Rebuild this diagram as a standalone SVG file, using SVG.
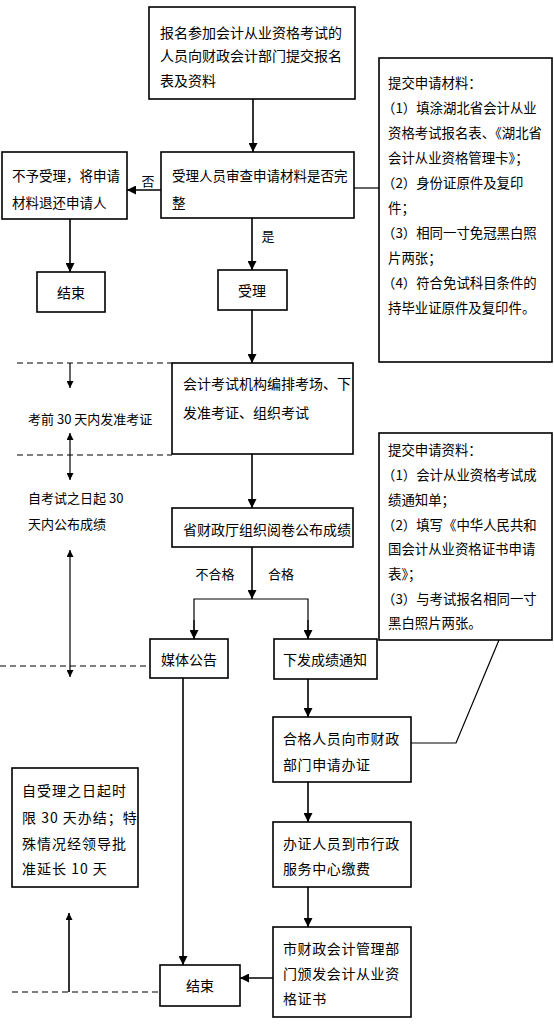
<svg xmlns="http://www.w3.org/2000/svg" width="554" height="1024" viewBox="0 0 554 1024">
<style>
.box{fill:#fff;stroke:#000;stroke-width:1.6}
.t{font-family:"Noto Sans CJK SC","Noto Sans CJK JP",sans-serif;font-size:14px;fill:#000;dominant-baseline:central}
.s{font-size:13.4px}
.m{font-size:13.5px}
.l{font-size:13px}
.c{text-anchor:middle}
.ln{fill:none;stroke:#000;stroke-width:1.6}
.th{fill:none;stroke:#000;stroke-width:1.2}
.d{fill:none;stroke:#000;stroke-width:1.2;stroke-dasharray:6 4}
</style>
<defs>
<marker id="a" viewBox="0 0 10 10" refX="10" refY="5" markerWidth="7" markerHeight="7" markerUnits="userSpaceOnUse" orient="auto-start-reverse"><path d="M0,0 L10,5 L0,10 z" fill="#000"/></marker>
<marker id="b" viewBox="0 0 10 10" refX="10" refY="5" markerWidth="9" markerHeight="9" markerUnits="userSpaceOnUse" orient="auto-start-reverse"><path d="M0,0 L10,5 L0,10 z" fill="#000"/></marker>
</defs>
<rect width="554" height="1024" fill="#fff"/>

<g id="connectors">
<line class="ln" x1="253" y1="99" x2="253" y2="152" marker-end="url(#b)"/>
<line class="ln" x1="161" y1="190" x2="127" y2="190" marker-end="url(#b)"/>
<line class="th" x1="354" y1="188" x2="379" y2="188"/>
<line class="ln" x1="70" y1="219" x2="70" y2="272" marker-end="url(#b)"/>
<line class="ln" x1="252" y1="218" x2="252" y2="270" marker-end="url(#b)"/>
<line class="ln" x1="252" y1="310" x2="252" y2="363" marker-end="url(#b)"/>
<line class="ln" x1="252" y1="454" x2="252" y2="508" marker-end="url(#b)"/>
<line class="ln" x1="252" y1="547" x2="252" y2="599" marker-end="url(#b)"/>
<polyline class="th" points="194,639 194,599 308,599 308,639"/>
<line class="th" x1="194" y1="620" x2="194" y2="639" marker-end="url(#b)"/>
<line class="th" x1="308" y1="620" x2="308" y2="639" marker-end="url(#b)"/>
<line class="ln" x1="183" y1="678" x2="183" y2="965" marker-end="url(#b)"/>
<line class="ln" x1="308" y1="679" x2="308" y2="717" marker-end="url(#b)"/>
<polyline class="th" points="411,743 456,743 499,640"/>
<line class="ln" x1="308" y1="782" x2="308" y2="822" marker-end="url(#b)"/>
<line class="ln" x1="308" y1="887" x2="308" y2="927" marker-end="url(#b)"/>
<line class="ln" x1="273" y1="978" x2="240" y2="978" marker-end="url(#b)"/>

<line class="d" x1="17" y1="363" x2="172" y2="363"/>
<line class="d" x1="17" y1="455" x2="172" y2="455"/>
<line class="d" x1="0" y1="666" x2="150" y2="666"/>
<line class="d" x1="12" y1="992" x2="160" y2="992"/>
<line class="th" x1="70" y1="363" x2="70" y2="388" marker-end="url(#a)"/>
<line class="th" x1="70" y1="455" x2="70" y2="433" marker-end="url(#a)"/>
<line class="th" x1="70" y1="455" x2="70" y2="480" marker-end="url(#a)"/>
<line class="th" x1="70" y1="550" x2="70" y2="677" marker-start="url(#a)" marker-end="url(#a)"/>
<line class="ln" x1="69" y1="992" x2="69" y2="913" marker-end="url(#a)"/>
</g>

<g id="n-apply">
<rect class="box" x="149" y="7" width="206" height="92"/>
<text class="t" x="160" y="32">报名参加会计从业资格考试的</text>
<text class="t" x="160" y="55">人员向财政会计部门提交报名</text>
<text class="t" x="160" y="80">表及资料</text>
</g>

<g id="n-review">
<rect class="box" x="161" y="152" width="193" height="66"/>
<text class="t m" x="172" y="175">受理人员审查申请材料是否完</text>
<text class="t m" x="172" y="202">整</text>
</g>

<g id="n-reject">
<rect class="box" x="2" y="152" width="125" height="67"/>
<text class="t m" x="12" y="175">不予受理，将申请</text>
<text class="t m" x="12" y="202">材料退还申请人</text>
</g>

<g id="lbl-no"><text class="t l c" x="148" y="180">否</text></g>
<g id="lbl-yes"><text class="t l c" x="268" y="235">是</text></g>

<g id="n-end1">
<rect class="box" x="37" y="272" width="68" height="40"/>
<text class="t c" x="71" y="292">结束</text>
</g>

<g id="n-accept">
<rect class="box" x="218" y="270" width="69" height="40"/>
<text class="t c" x="252" y="290">受理</text>
</g>

<g id="n-materials1">
<rect class="box" x="379" y="58" width="173" height="304"/>
<text class="t s" x="388" y="82">提交申请材料：</text>
<text class="t s" x="382" y="107">（1）填涂湖北省会计从业</text>
<text class="t s" x="388" y="132">资格考试报名表、《湖北省</text>
<text class="t s" x="388" y="157">会计从业资格管理卡》；</text>
<text class="t s" x="382" y="182">（2）身份证原件及复印</text>
<text class="t s" x="388" y="207">件；</text>
<text class="t s" x="382" y="232">（3）相同一寸免冠黑白照</text>
<text class="t s" x="388" y="257">片两张；</text>
<text class="t s" x="382" y="282">（4）符合免试科目条件的</text>
<text class="t s" x="388" y="307">持毕业证原件及复印件。</text>
</g>

<g id="n-exam">
<rect class="box" x="172" y="363" width="181" height="91"/>
<text class="t" x="183" y="383">会计考试机构编排考场、下</text>
<text class="t" x="183" y="412">发准考证、组织考试</text>
</g>

<g id="lbl-30a"><text class="t l" x="28" y="418">考前 30 天内发准考证</text></g>
<g id="lbl-30b">
<text class="t l" x="28" y="497">自考试之日起 30</text>
<text class="t l" x="28" y="523">天内公布成绩</text>
</g>

<g id="n-grade">
<rect class="box" x="172" y="508" width="181" height="39"/>
<text class="t" x="183" y="529">省财政厅组织阅卷公布成绩</text>
</g>

<g id="lbl-fail"><text class="t l c" x="215" y="573">不合格</text></g>
<g id="lbl-pass"><text class="t l c" x="281" y="573">合格</text></g>

<g id="n-materials2">
<rect class="box" x="379" y="433" width="173" height="207"/>
<text class="t s" x="388" y="449">提交申请资料：</text>
<text class="t s" x="382" y="474">（1）会计从业资格考试成</text>
<text class="t s" x="388" y="499">绩通知单；</text>
<text class="t s" x="382" y="524">（2）填写《中华人民共和</text>
<text class="t s" x="388" y="548">国会计从业资格证书申请</text>
<text class="t s" x="388" y="573">表》；</text>
<text class="t s" x="382" y="598">（3）与考试报名相同一寸</text>
<text class="t s" x="388" y="622">黑白照片两张。</text>
</g>

<g id="n-media">
<rect class="box" x="150" y="639" width="78" height="39"/>
<text class="t c" x="189" y="659">媒体公告</text>
</g>

<g id="n-notice">
<rect class="box" x="274" y="639" width="103" height="40"/>
<text class="t c" x="325" y="659">下发成绩通知</text>
</g>

<g id="n-applycert">
<rect class="box" x="273" y="717" width="138" height="65"/>
<text class="t" x="283" y="738" letter-spacing="0.6">合格人员向市财政</text>
<text class="t" x="283" y="764" letter-spacing="0.6">部门申请办证</text>
</g>

<g id="n-pay">
<rect class="box" x="273" y="822" width="138" height="65"/>
<text class="t" x="283" y="843" letter-spacing="0.6">办证人员到市行政</text>
<text class="t" x="283" y="868" letter-spacing="0.6">服务中心缴费</text>
</g>

<g id="n-issue">
<rect class="box" x="273" y="927" width="138" height="90"/>
<text class="t" x="283" y="948" letter-spacing="0.6">市财政会计管理部</text>
<text class="t" x="283" y="973" letter-spacing="0.6">门颁发会计从业资</text>
<text class="t" x="283" y="998" letter-spacing="0.6">格证书</text>
</g>

<g id="n-end2">
<rect class="box" x="160" y="965" width="80" height="41"/>
<text class="t c" x="200" y="985">结束</text>
</g>

<g id="n-limit">
<rect class="box" x="12" y="768" width="126" height="119"/>
<text class="t" x="22" y="790" letter-spacing="1">自受理之日起时</text>
<text class="t" x="22" y="817" letter-spacing="1">限 30 天办结；特</text>
<text class="t" x="22" y="843" letter-spacing="1">殊情况经领导批</text>
<text class="t" x="22" y="868" letter-spacing="1">准延长 10 天</text>
</g>
</svg>
